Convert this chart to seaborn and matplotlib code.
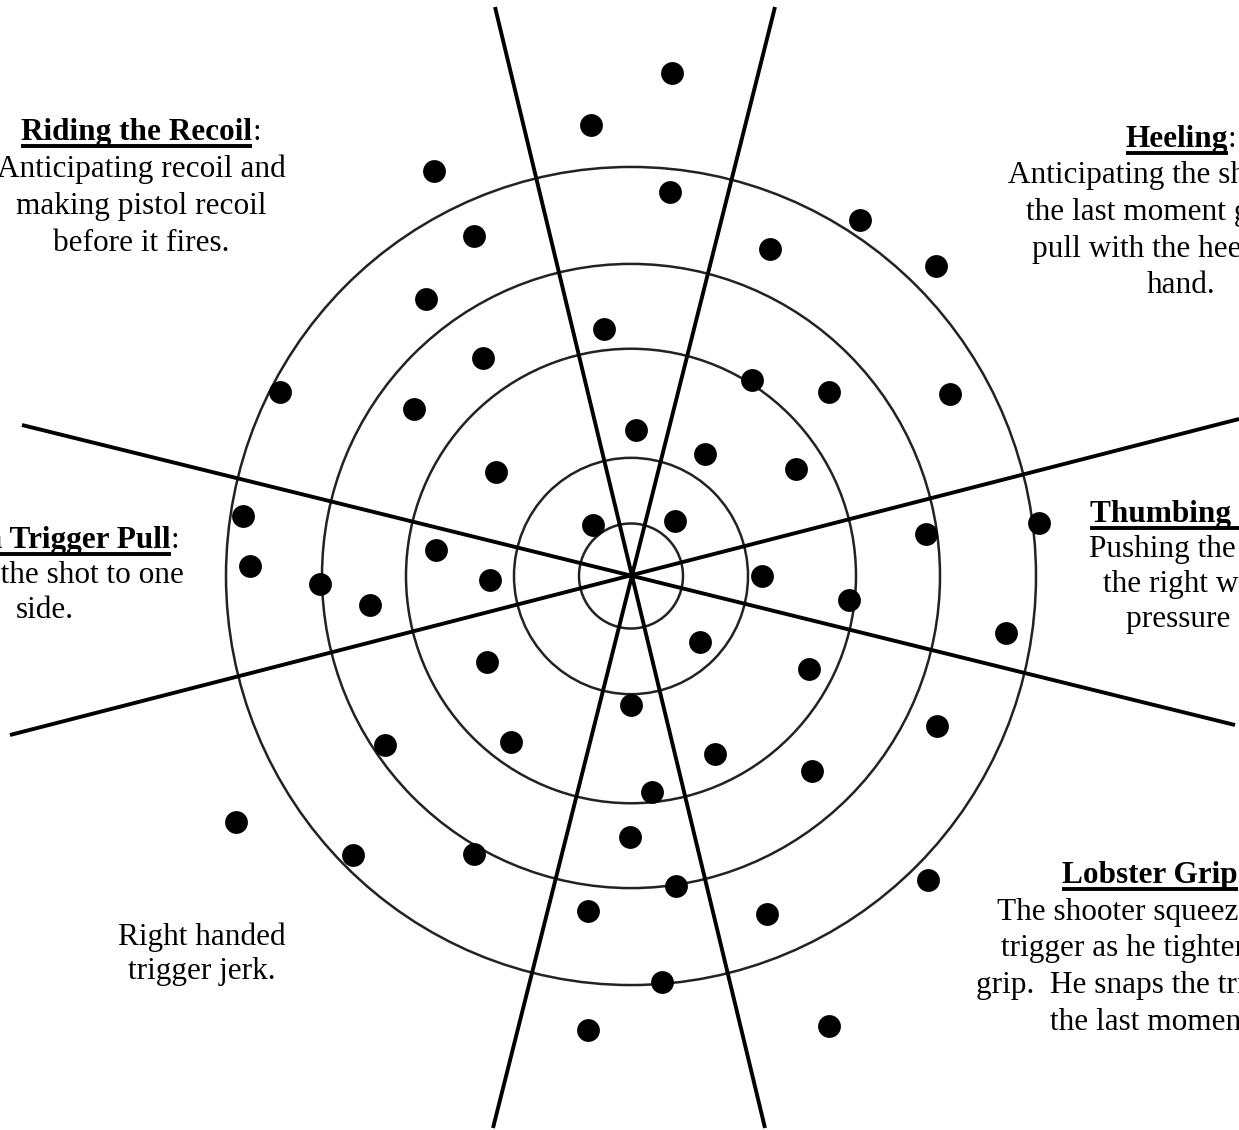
import numpy as np
import pandas as pd
import seaborn as sns
import matplotlib
matplotlib.use("Agg")
import matplotlib.pyplot as plt
from matplotlib.patches import Ellipse

# ---- data -------------------------------------------------------------
dot_x = [672, 591, 434, 670, 860, 474, 770, 936, 426, 604, 483, 280, 752, 829,
         950, 414, 636, 705, 796, 496, 243, 593, 675, 1039, 926, 250, 436, 320,
         490, 370, 762, 849, 1006, 700, 487, 809, 631, 937, 385, 511, 715, 812,
         652, 236, 630, 353, 474, 928, 676, 588, 767, 662, 588, 829]
dot_y = [73, 125, 171, 192, 220, 236, 249, 266, 299, 329, 358, 392, 380, 392,
         394, 409, 430, 454, 469, 472, 516, 525, 521, 523, 534, 566, 550, 584,
         580, 605, 576, 600, 633, 642, 662, 669, 705, 726, 745, 742, 754, 771,
         792, 822, 837, 855, 854, 880, 886, 911, 914, 982, 1030, 1026]

ring_radii = [52, 117, 225, 309, 405]
target_center = (631, 576)

spoke_x0 = [495, 775, 22, 10]
spoke_y0 = [7, 7, 425, 735]
spoke_x1 = [765, 493, 1235, 1239]
spoke_y1 = [1128, 1128, 725, 419]

titles = ["Riding the Recoil", "Heeling", "Snatch Trigger Pull",
          "Thumbing the Pistol", "Lobster Grip", None]
bodies = [
    ["Anticipating recoil and", "making pistol recoil", "before it fires."],
    ["Anticipating the shot and at", "the last moment giving a",
     "pull with the heel of the", "hand."],
    ["Pushes the shot to one", "side."],
    ["Pushing the weapon to", "the right with thumb", "pressure on grip."],
    ["The shooter squeezes the", "trigger as he tightens his",
     "grip.  He snaps the trigger at", "the last moment."],
    ["Right handed", "trigger jerk."],
]
block_cx = [141, 1181, 45, 1231, 1154, 202]
block_y0 = [140, 147, 548, 522, 883, 945]   # baseline of first line
block_step = [37, 36.5, 35, 35, 36.7, 34.5]

# ---- figure -----------------------------------------------------------
sns.set_theme(style="white")
plt.rcParams["font.family"] = ["Liberation Serif", "DejaVu Serif"]

fig = plt.figure(figsize=(12.39, 11.30), dpi=100)
ax = fig.add_axes([0, 0, 1, 1])
fig.patch.set_facecolor("white")

cx, cy = target_center
for r in ring_radii:
    ax.add_patch(Ellipse((cx, cy), 2 * r, 2 * r * 1.01, fill=False,
                         edgecolor="#222222", linewidth=1.8, zorder=1))

for x0, y0, x1, y1 in zip(spoke_x0, spoke_y0, spoke_x1, spoke_y1):
    ax.plot([x0, x1], [y0, y1], color="black", linewidth=2.8,
            solid_capstyle="butt", zorder=2)

df = pd.DataFrame({"x": dot_x, "y": dot_y})
sns.scatterplot(data=df, x="x", y="y", ax=ax, s=270, color="black",
                linewidth=0, zorder=3, legend=False)
ax.set_xlim(0, 1239)
ax.set_ylim(1130, 0)
ax.axis("off")

FS = 22.5
renderer = fig.canvas.get_renderer()

def width_px(t):
    return t.get_window_extent(renderer=renderer).width

for title, body, bx, by, step in zip(titles, bodies, block_cx, block_y0,
                                     block_step):
    y = by
    if title:
        tb = ax.text(0, y, title, fontsize=FS, fontweight="bold",
                     ha="left", va="baseline", color="black", zorder=4)
        tc = ax.text(0, y, ":", fontsize=FS, ha="left", va="baseline",
                     color="black", zorder=4)
        w1 = width_px(tb)
        w2 = width_px(tc)
        left = bx - (w1 + w2) / 2
        tb.set_x(left)
        tc.set_x(left + w1)
        ax.plot([left, left + w1], [y + 6, y + 6], color="black",
                linewidth=2.8, solid_capstyle="butt", zorder=4)
        y += step
    for line in body:
        ax.text(bx, y, line, fontsize=FS, ha="center", va="baseline",
                color="black", zorder=4)
        y += step

fig.savefig("out.png", dpi=100, facecolor="white")
